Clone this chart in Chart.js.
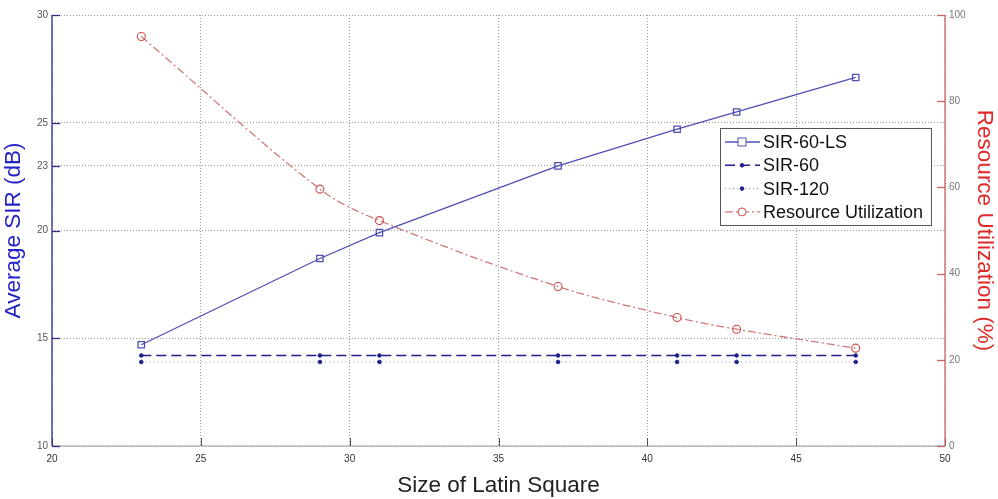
<!DOCTYPE html>
<html>
<head>
<meta charset="utf-8">
<script src="https://cdn.jsdelivr.net/npm/chart.js@4.4.1/dist/chart.umd.min.js"></script>
<style>
  html, body { margin: 0; padding: 0; background: #ffffff; }
  #wrap { width: 998px; height: 499px; position: relative; }
</style>
</head>
<body>
<div id="wrap"><canvas id="c" width="998" height="499"></canvas></div>
<script>
// Latin square sizes and measured results
const sizes = [23, 29, 31, 37, 41, 43, 47];
const sir60ls = [14.7, 18.7, 19.9, 23.0, 24.7, 25.5, 27.1];
const sir60 = [14.2, 14.2, 14.2, 14.2, 14.2, 14.2, 14.2];
const sir120 = [13.9, 13.9, 13.9, 13.9, 13.9, 13.9, 13.9];
const resourceUtil = [95.0, 59.6, 52.3, 37.0, 29.8, 27.1, 22.7];

// Axis tick labels
const xTicks = [20, 25, 30, 35, 40, 45, 50];
const sirTicks = [10, 15, 20, 23, 25, 30];
const ruTicks = [0, 20, 40, 60, 80, 100];

const seriesNames = ['SIR-60-LS', 'SIR-60', 'SIR-120', 'Resource Utilization'];

const pts = arr => sizes.map((s, i) => ({ x: s, y: arr[i] }));

const blueLS = '#5050b4';
const navy = '#1e1e8c';
const lightBlue = '#8c8cd0';
const ruLine = '#d07a7a';
const ruMark = '#d04a4a';
const fontFam = '"Liberation Sans", Arial, sans-serif';

// Inside tick marks, coloured axis lines and the boxed legend
const frame = {
  id: 'frame',
  afterDraw(chart) {
    const { ctx, chartArea: a, scales } = chart;
    ctx.save();
    ctx.setLineDash([]);
    // bottom axis
    ctx.strokeStyle = '#9a9a9a';
    ctx.lineWidth = 1.2;
    ctx.beginPath(); ctx.moveTo(a.left, a.bottom); ctx.lineTo(a.right, a.bottom); ctx.stroke();
    ctx.strokeStyle = '#555';
    ctx.lineWidth = 1;
    xTicks.forEach(t => {
      const x = Math.round(scales.x.getPixelForValue(t)) + 0.5;
      ctx.beginPath(); ctx.moveTo(x, a.bottom); ctx.lineTo(x, a.bottom - 8); ctx.stroke();
    });
    // left axis
    ctx.strokeStyle = '#2a2a8a';
    ctx.lineWidth = 1.3;
    ctx.beginPath(); ctx.moveTo(a.left, a.top); ctx.lineTo(a.left, a.bottom); ctx.stroke();
    sirTicks.forEach(t => {
      const y = Math.round(scales.y.getPixelForValue(t)) + 0.5;
      ctx.beginPath(); ctx.moveTo(a.left, y); ctx.lineTo(a.left + 8, y); ctx.stroke();
    });
    // right axis
    ctx.strokeStyle = '#c86464';
    ctx.beginPath(); ctx.moveTo(a.right, a.top); ctx.lineTo(a.right, a.bottom); ctx.stroke();
    ruTicks.forEach(t => {
      const y = Math.round(scales.y1.getPixelForValue(t)) + 0.5;
      ctx.beginPath(); ctx.moveTo(a.right, y); ctx.lineTo(a.right - 8, y); ctx.stroke();
    });

    // legend
    const lx = 720, ly = 128, lw = 211, lh = 97;
    ctx.fillStyle = '#ffffff';
    ctx.fillRect(lx, ly, lw, lh);
    ctx.strokeStyle = '#555';
    ctx.lineWidth = 1;
    ctx.strokeRect(lx + 0.5, ly + 0.5, lw, lh);
    const rowH = 23.3, y0 = ly + 14;
    chart.data.datasets.forEach((ds, i) => {
      const y = y0 + i * rowH;
      ctx.save();
      ctx.strokeStyle = ds.borderColor;
      ctx.lineWidth = ds.borderWidth;
      ctx.setLineDash(ds.borderDash || []);
      ctx.beginPath(); ctx.moveTo(lx + 5, y); ctx.lineTo(lx + 40, y); ctx.stroke();
      ctx.setLineDash([]);
      const cx = lx + 22;
      ctx.strokeStyle = ds.pointBorderColor;
      ctx.fillStyle = ds.pointBackgroundColor;
      ctx.lineWidth = 1;
      if (ds.pointStyle === 'rect') {
        ctx.fillStyle = '#fff';
        ctx.fillRect(cx - 4, y - 4, 8, 8);
        ctx.strokeRect(cx - 4, y - 4, 8, 8);
      } else {
        ctx.beginPath(); ctx.arc(cx, y, ds.pointRadius, 0, Math.PI * 2);
        if (ds.pointRadius > 3) ctx.fillStyle = '#fff';
        ctx.fill(); ctx.stroke();
      }
      ctx.restore();
      ctx.fillStyle = '#111';
      ctx.font = '18px ' + fontFam;
      ctx.textBaseline = 'middle';
      ctx.fillText(seriesNames[i], lx + 43, y + 1);
    });
    ctx.restore();
  }
};

const fixWidth = w => scale => { scale.width = w; };

new Chart(document.getElementById('c'), {
  type: 'line',
  data: {
    datasets: [
      {
        label: seriesNames[0], data: pts(sir60ls), yAxisID: 'y',
        borderColor: blueLS, borderWidth: 1.3, pointStyle: 'rect', pointRadius: 4.5,
        pointBorderColor: blueLS, pointBackgroundColor: 'rgba(255,255,255,0)', pointBorderWidth: 1.3
      },
      {
        label: seriesNames[1], data: pts(sir60), yAxisID: 'y',
        borderColor: navy, borderWidth: 1.6, borderDash: [10, 5], pointStyle: 'circle', pointRadius: 1.8,
        pointBorderColor: navy, pointBackgroundColor: navy, pointBorderWidth: 1
      },
      {
        label: seriesNames[2], data: pts(sir120), yAxisID: 'y',
        borderColor: lightBlue, borderWidth: 1, borderDash: [1, 3], pointStyle: 'circle', pointRadius: 1.8,
        pointBorderColor: navy, pointBackgroundColor: navy, pointBorderWidth: 1
      },
      {
        label: seriesNames[3], data: pts(resourceUtil), yAxisID: 'y1',
        borderColor: ruLine, borderWidth: 1.3, borderDash: [8, 3, 2, 3], pointStyle: 'circle', pointRadius: 4,
        pointBorderColor: ruMark, pointBackgroundColor: 'rgba(255,255,255,0)', pointBorderWidth: 1.1,
        tension: 0.35
      }
    ]
  },
  options: {
    responsive: false,
    animation: false,
    layout: { padding: { top: 15, left: 0, right: 0, bottom: 0 } },
    plugins: { legend: { display: false }, tooltip: { enabled: false } },
    scales: {
      x: {
        type: 'linear', min: 20, max: 50,
        afterBuildTicks: s => { s.ticks = xTicks.map(v => ({ value: v })); },
        afterFit: s => { s.height = 53; },
        grid: { color: '#9a9a9a', lineWidth: 1, drawTicks: false },
        border: { display: false, dash: [1, 2] },
        ticks: { color: '#333', font: { size: 10, family: fontFam }, padding: 7, maxRotation: 0 },
        title: { display: true, text: 'Size of Latin Square', color: '#222',
                 font: { size: 22.5, family: fontFam }, padding: { top: 1, bottom: 0 } }
      },
      y: {
        type: 'linear', position: 'left', min: 10, max: 30,
        afterBuildTicks: s => { s.ticks = sirTicks.map(v => ({ value: v })); },
        afterFit: fixWidth(52),
        grid: { color: '#9a9a9a', lineWidth: 1, drawTicks: false },
        border: { display: false, dash: [1, 2] },
        ticks: { color: '#555', font: { size: 10, family: fontFam }, padding: 4 },
        title: { display: true, text: 'Average SIR (dB)', color: '#2323c8',
                 font: { size: 22.5, family: fontFam }, padding: { top: 0, bottom: 0 } }
      },
      y1: {
        type: 'linear', position: 'right', min: 0, max: 100,
        afterBuildTicks: s => { s.ticks = ruTicks.map(v => ({ value: v })); },
        afterFit: fixWidth(53),
        grid: { display: false, drawTicks: false },
        border: { display: false },
        ticks: { color: '#777', font: { size: 10, family: fontFam }, padding: 4 },
        title: { display: true, text: 'Resource Utilization (%)', color: '#e02828',
                 font: { size: 22.5, family: fontFam }, padding: { top: 0, bottom: 0 } }
      }
    }
  },
  plugins: [frame]
});
</script>
</body>
</html>
